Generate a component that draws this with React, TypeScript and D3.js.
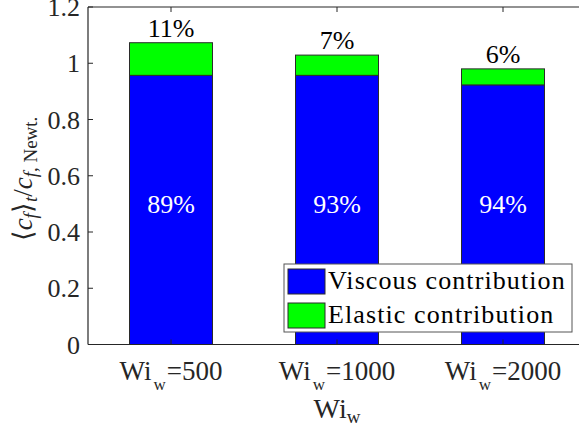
import React from "react";
import * as d3 from "d3";

// Wall Weissenberg number cases
const categories = ["500", "1000", "2000"];
// Time-averaged skin friction, normalised by the Newtonian value
const viscous = [0.957, 0.957, 0.923];
const elastic = [0.116, 0.072, 0.057];
const viscousPct = ["89%", "93%", "94%"];
const elasticPct = ["11%", "7%", "6%"];
const yTicks = [0, 0.2, 0.4, 0.6, 0.8, 1, 1.2];
const legendLabels = ["Viscous contribution", "Elastic contribution"];
const seriesColors = ["#0000ff", "#00ff00"];

const W = 579;
const H = 431;
const left = 88;
const right = 586;
const top = 7;
const bottom = 344.5;
const FONT = "Liberation Serif";
const AX = "#262626";
const EDGE = "#2b2b2b";

export default function App() {
  const x = d3.scalePoint<string>().domain(categories).range([left, right]).padding(0.5);
  const step = x.step();
  const barW = step * 0.5;
  const y = d3.scaleLinear().domain([0, 1.2]).range([bottom, top]);
  const stack = d3.stack<number>().keys(["v", "e"]).value((i, k) => (k === "v" ? viscous[i] : elastic[i]));
  const series = stack(categories.map((_, i) => i) as any);
  const tf = { fontFamily: FONT };

  return (
    <svg width={W} height={H} style={{ position: "absolute", left: 0, top: 0, background: "#fff" }}>
      {/* stacked bars */}
      {series.map((s, si) =>
        s.map((d, i) => (
          <rect
            key={`${si}-${i}`}
            x={x(categories[i])! - barW / 2}
            y={y(d[1])}
            width={barW}
            height={y(d[0]) - y(d[1])}
            fill={seriesColors[si]}
            stroke={EDGE}
            strokeWidth={1}
          />
        ))
      )}

      {/* axes box */}
      <line x1={left} x2={W} y1={bottom} y2={bottom} stroke={AX} strokeWidth={1.2} />
      <line x1={left} x2={W} y1={top} y2={top} stroke={AX} strokeWidth={1.2} />
      <line x1={left} x2={left} y1={top} y2={bottom} stroke={AX} strokeWidth={1.2} />

      {/* y ticks */}
      {yTicks.map((t) => (
        <g key={t}>
          <line x1={left} x2={left + 5} y1={y(t)} y2={y(t)} stroke={AX} strokeWidth={1} />
          <text x={80} y={y(t) + 9} textAnchor="end" fontSize={26} fill={AX} style={tf}>
            {String(t)}
          </text>
        </g>
      ))}

      {/* x ticks */}
      {categories.map((c) => (
        <g key={c}>
          <line x1={x(c)} x2={x(c)} y1={bottom} y2={bottom - 5} stroke={AX} strokeWidth={1} />
          <line x1={x(c)} x2={x(c)} y1={top} y2={top + 5} stroke={AX} strokeWidth={1} />
          <text x={x(c)} y={380} textAnchor="middle" fontSize={27} fill={AX} style={tf}>
            Wi
            <tspan fontSize={17} dx={2} dy={10}>w</tspan>
            <tspan dx={1} dy={-10}>={c}</tspan>
          </text>
        </g>
      ))}

      {/* percentage labels */}
      {categories.map((c, i) => (
        <g key={c}>
          <text x={x(c)} y={y(viscous[i] + elastic[i]) - 6} textAnchor="middle" fontSize={26} fill="#000" style={tf}>
            {elasticPct[i]}
          </text>
          <text x={x(c)} y={y(0.5) + 9} textAnchor="middle" fontSize={26} fill="#fff" style={tf}>
            {viscousPct[i]}
          </text>
        </g>
      ))}

      {/* axis labels */}
      <text x={337} y={418} textAnchor="middle" fontSize={28} fill={AX} style={tf}>
        Wi<tspan fontSize={19} dy={5}>w</tspan>
      </text>
      <g transform="translate(32,179) rotate(-90)">
        <text textAnchor="middle" fontSize={27} fill={AX} style={tf}>
          ⟨<tspan fontStyle="italic">c</tspan>
          <tspan fontStyle="italic" fontSize={19} dy={5}>f</tspan>
          <tspan dy={-5}>⟩</tspan>
          <tspan fontStyle="italic" fontSize={19} dy={5}>t</tspan>
          <tspan dy={-5}>/</tspan>
          <tspan fontStyle="italic">c</tspan>
          <tspan fontSize={19} dy={5}>
            <tspan fontStyle="italic">f</tspan>, Newt.
          </tspan>
        </text>
      </g>

      {/* legend */}
      <g>
        <rect x={284} y={264} width={288} height={68} fill="#fff" stroke="#555" strokeWidth={1} />
        {legendLabels.map((l, i) => (
          <g key={l}>
            <rect x={288} y={269 + i * 34} width={37} height={25} fill={seriesColors[i]} stroke={EDGE} strokeWidth={1} />
            <text x={328} y={289 + i * 34} fontSize={26} letterSpacing={1.1} fill="#000" style={tf}>
              {l}
            </text>
          </g>
        ))}
      </g>
    </svg>
  );
}
